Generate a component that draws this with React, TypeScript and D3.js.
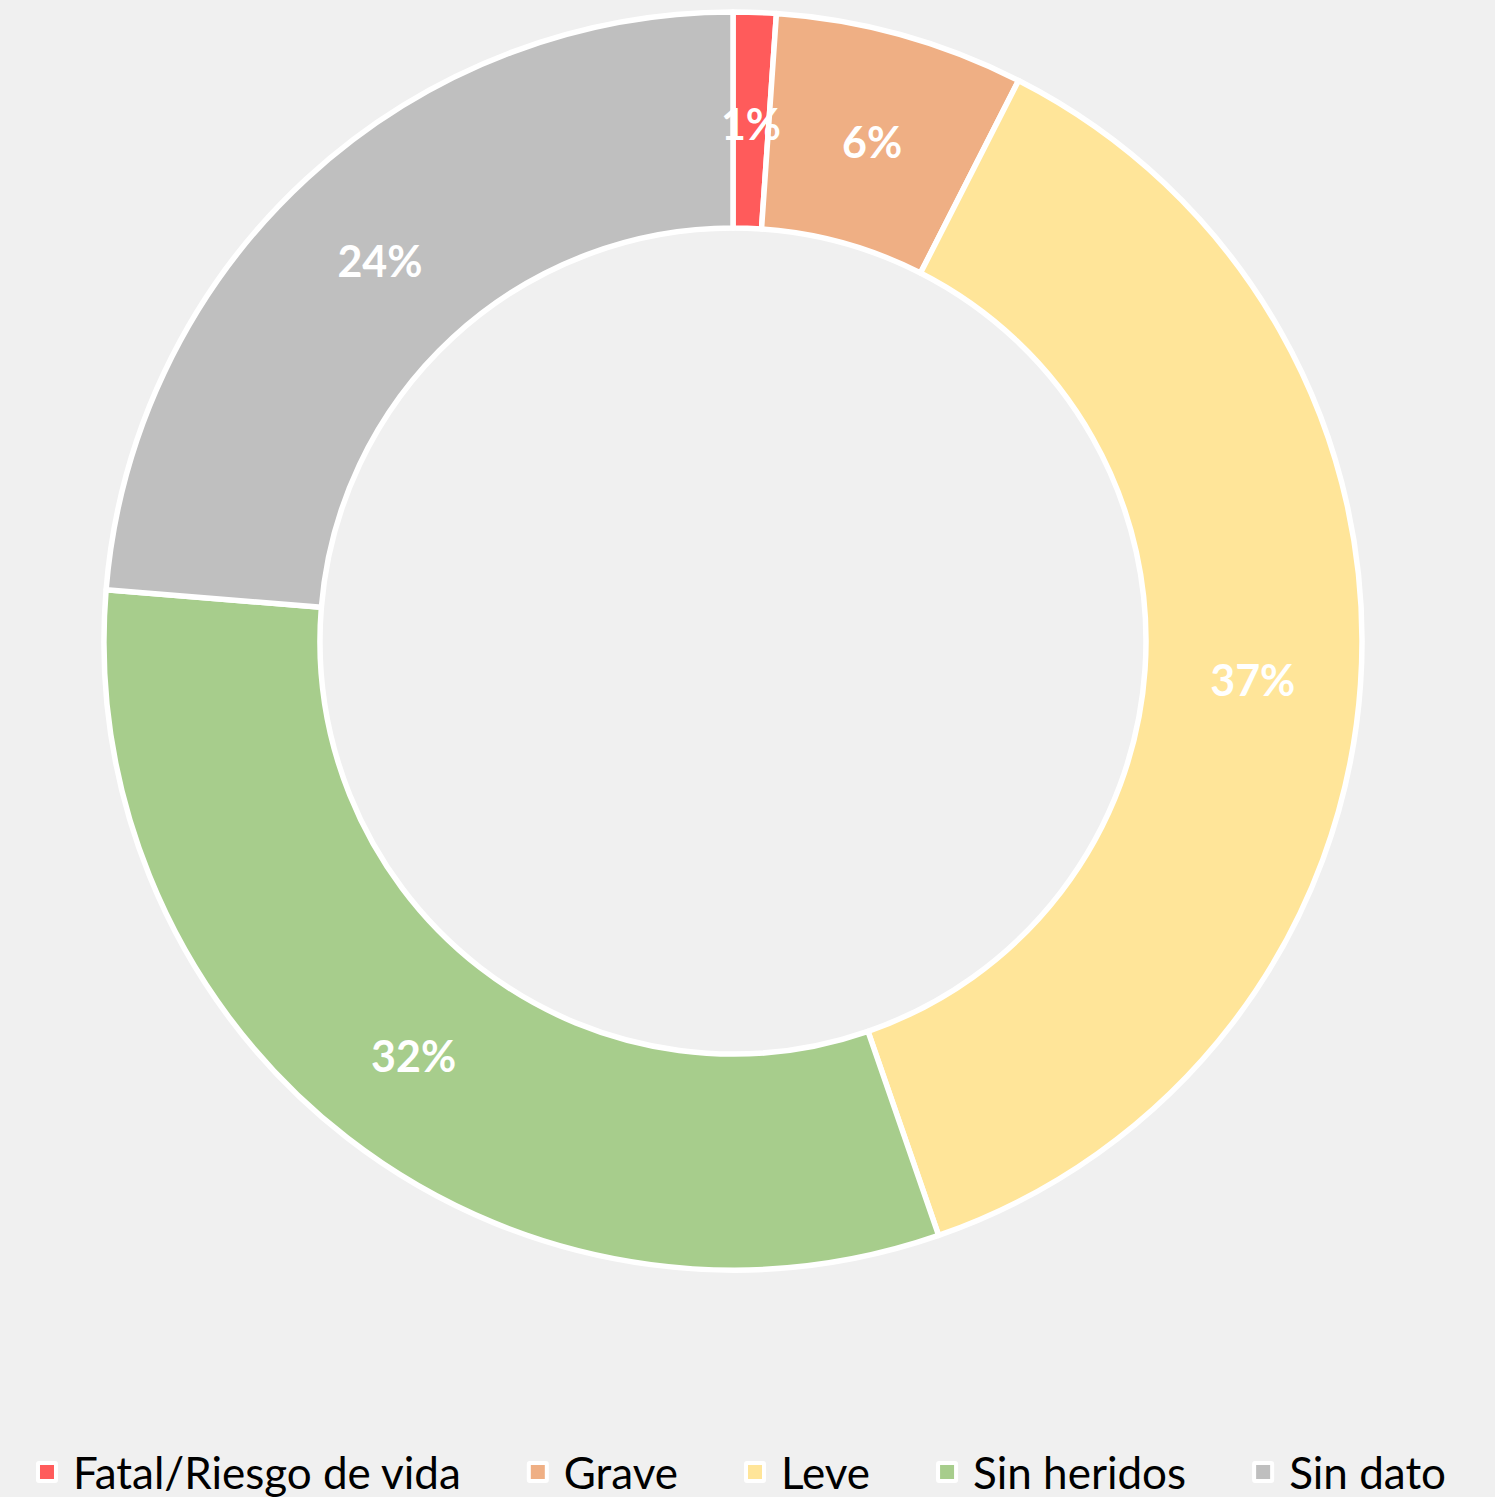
import { useRef, useEffect } from 'react';
import * as d3 from 'd3';

const categories = ['Fatal/Riesgo de vida', 'Grave', 'Leve', 'Sin heridos', 'Sin dato'];
const shares = [1.1, 6.4, 37.2, 31.6, 23.7];
const colors = ['#ff5b5b', '#efaf84', '#ffe599', '#a7cd8c', '#bfbfbf'];

const W = 1495;
const H = 1497;
const FONT = 'Lato, "Open Sans", sans-serif';

export default function App() {
  const svgRef = useRef<SVGSVGElement>(null);

  useEffect(() => {
    if (!svgRef.current) return;
    const svg = d3.select(svgRef.current);
    svg.selectAll('*').remove();

    svg.append('rect').attr('width', W).attr('height', H).attr('fill', '#f0f0f0');

    const cx = 733;
    const cy = 641;
    const outer = 629;
    const inner = 413;

    const data = categories.map((c, i) => ({ name: c, value: shares[i], color: colors[i] }));
    const total = d3.sum(shares);

    const pie = d3
      .pie<{ name: string; value: number; color: string }>()
      .value((d) => d.value)
      .sort(null);
    const arc = d3
      .arc<d3.PieArcDatum<{ name: string; value: number; color: string }>>()
      .innerRadius(inner)
      .outerRadius(outer);

    const g = svg.append('g').attr('transform', `translate(${cx},${cy})`);
    const arcs = pie(data);

    g.selectAll('path')
      .data(arcs)
      .join('path')
      .attr('d', arc)
      .attr('fill', (d) => d.data.color)
      .attr('stroke', '#ffffff')
      .attr('stroke-width', 5.5)
      .attr('stroke-linejoin', 'round');

    // Percent labels at ring centroids
    g.selectAll('text.pct')
      .data(arcs)
      .join('text')
      .attr('class', 'pct')
      .attr('transform', (d) => {
        const [x, y] = arc.centroid(d);
        return `translate(${x},${y + 3})`;
      })
      .attr('text-anchor', 'middle')
      .attr('dominant-baseline', 'central')
      .attr('font-family', FONT)
      .attr('font-weight', 'bold')
      .attr('font-size', 43)
      .attr('fill', '#ffffff')
      .text((d) => `${Math.round((d.data.value / total) * 100)}%`);

    // Legend
    const legend = svg.append('g');
    const items = legend.selectAll('g').data(data).join('g');
    items
      .append('rect')
      .attr('width', 18)
      .attr('height', 18)
      .attr('y', -9)
      .attr('fill', (d) => d.color)
      .attr('stroke', '#ffffff')
      .attr('stroke-width', 4)
      .attr('rx', 1);
    const labels = items
      .append('text')
      .attr('x', 35)
      .attr('dominant-baseline', 'central')
      .attr('font-family', FONT)
      .attr('font-size', 44)
      .attr('fill', '#000000')
      .text((d) => d.name);

    const widths: number[] = [];
    labels.each(function () {
      widths.push((this as SVGTextElement).getComputedTextLength());
    });
    const gap = 68;
    const itemWidths = widths.map((w) => 35 + w);
    const totalW = d3.sum(itemWidths) + gap * (itemWidths.length - 1);
    let x = 742 - totalW / 2;
    items.attr('transform', (_d, i) => {
      const t = `translate(${x},1472)`;
      x += itemWidths[i] + gap;
      return t;
    });
  }, []);

  return (
    <svg ref={svgRef} width={W} height={H} style={{ position: 'absolute', left: 0, top: 0 }} />
  );
}
